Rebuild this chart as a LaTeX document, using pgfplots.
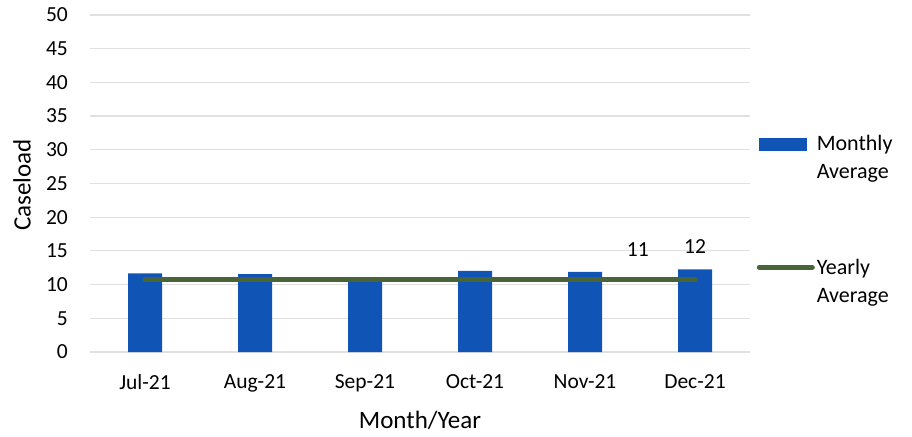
\documentclass[border=0pt]{standalone}
\usepackage{pgfplots}
\pgfplotsset{compat=1.18}
\usepackage{fontspec}
\setmainfont{Carlito}
\definecolor{barblue}{RGB}{16,84,182}
\definecolor{avggreen}{RGB}{74,100,58}

\begin{document}
\begin{tikzpicture}
\useasboundingbox (0pt,0pt) rectangle (912pt,436pt);
\begin{axis}[
    at={(90pt,84pt)}, anchor=south west,
    scale only axis,
    width=660pt, height=337pt,
    xmin=-0.5, xmax=5.5,
    ymin=0, ymax=50,
    xtick={0,1,2,3,4,5},
    xticklabels={Jul-21,Aug-21,Sep-21,Oct-21,Nov-21,Dec-21},
    ytick={0,5,...,50},
    axis line style={draw=none},
    major tick length=0pt,
    ymajorgrids,
    grid style={black!12, line width=1.2pt},
    /pgf/number format/assume math mode=true,
    ticklabel style={font=\fontsize{21.5}{26}\selectfont},
    yticklabel style={inner sep=0pt, xshift=-22pt},
    xticklabel style={inner sep=0pt, yshift=-22pt},
    xlabel={Month/Year}, ylabel={Caseload},
    label style={font=\fontsize{25}{30}\selectfont},
    xlabel style={at={(axis description cs:0.5,0)}, anchor=base, yshift=-76pt},
    ylabel style={at={(axis description cs:-0.103,0.495)}, anchor=center},
    legend style={
      at={(axis description cs:1.01,0.65)},
      anchor=north west,
      draw=none, fill=none, inner sep=0pt,
      row sep=75pt,
      cells={align=left},
      font=\fontsize{22}{28}\selectfont
    },
    legend cell align=left,
    nodes near coords style={font=\fontsize{21.5}{26}\selectfont, anchor=base}
]
\addplot[ybar, bar width=34pt, fill=barblue, draw=none,
    legend image code/.code={\fill[barblue] (0pt,6.5pt) rectangle (48pt,19.5pt);}]
coordinates {(0,11.65) (1,11.55) (2,10.9) (3,12.05) (4,11.9) (5,12.25)};
\addlegendentry{Monthly\\Average}

\addplot[avggreen, line width=5pt, line cap=round, mark=none,
    legend image code/.code={\draw[avggreen, line width=5pt, line cap=round] (0pt,14pt) -- (53pt,14pt);}]
coordinates {(0,10.8) (1,10.8) (2,10.8) (3,10.8) (4,10.8) (5,10.8)};
\addlegendentry{Yearly\\Average}

% data labels
\addplot[draw=none, mark=none, forget plot, nodes near coords, point meta=explicit symbolic,
    every node near coord/.append style={yshift=16pt}]
coordinates {(5,12.25) [12]};
\addplot[draw=none, mark=none, forget plot, nodes near coords, point meta=explicit symbolic,
    every node near coord/.append style={yshift=23pt}]
coordinates {(4.48,10.8) [11]};
\end{axis}
\end{tikzpicture}
\end{document}
